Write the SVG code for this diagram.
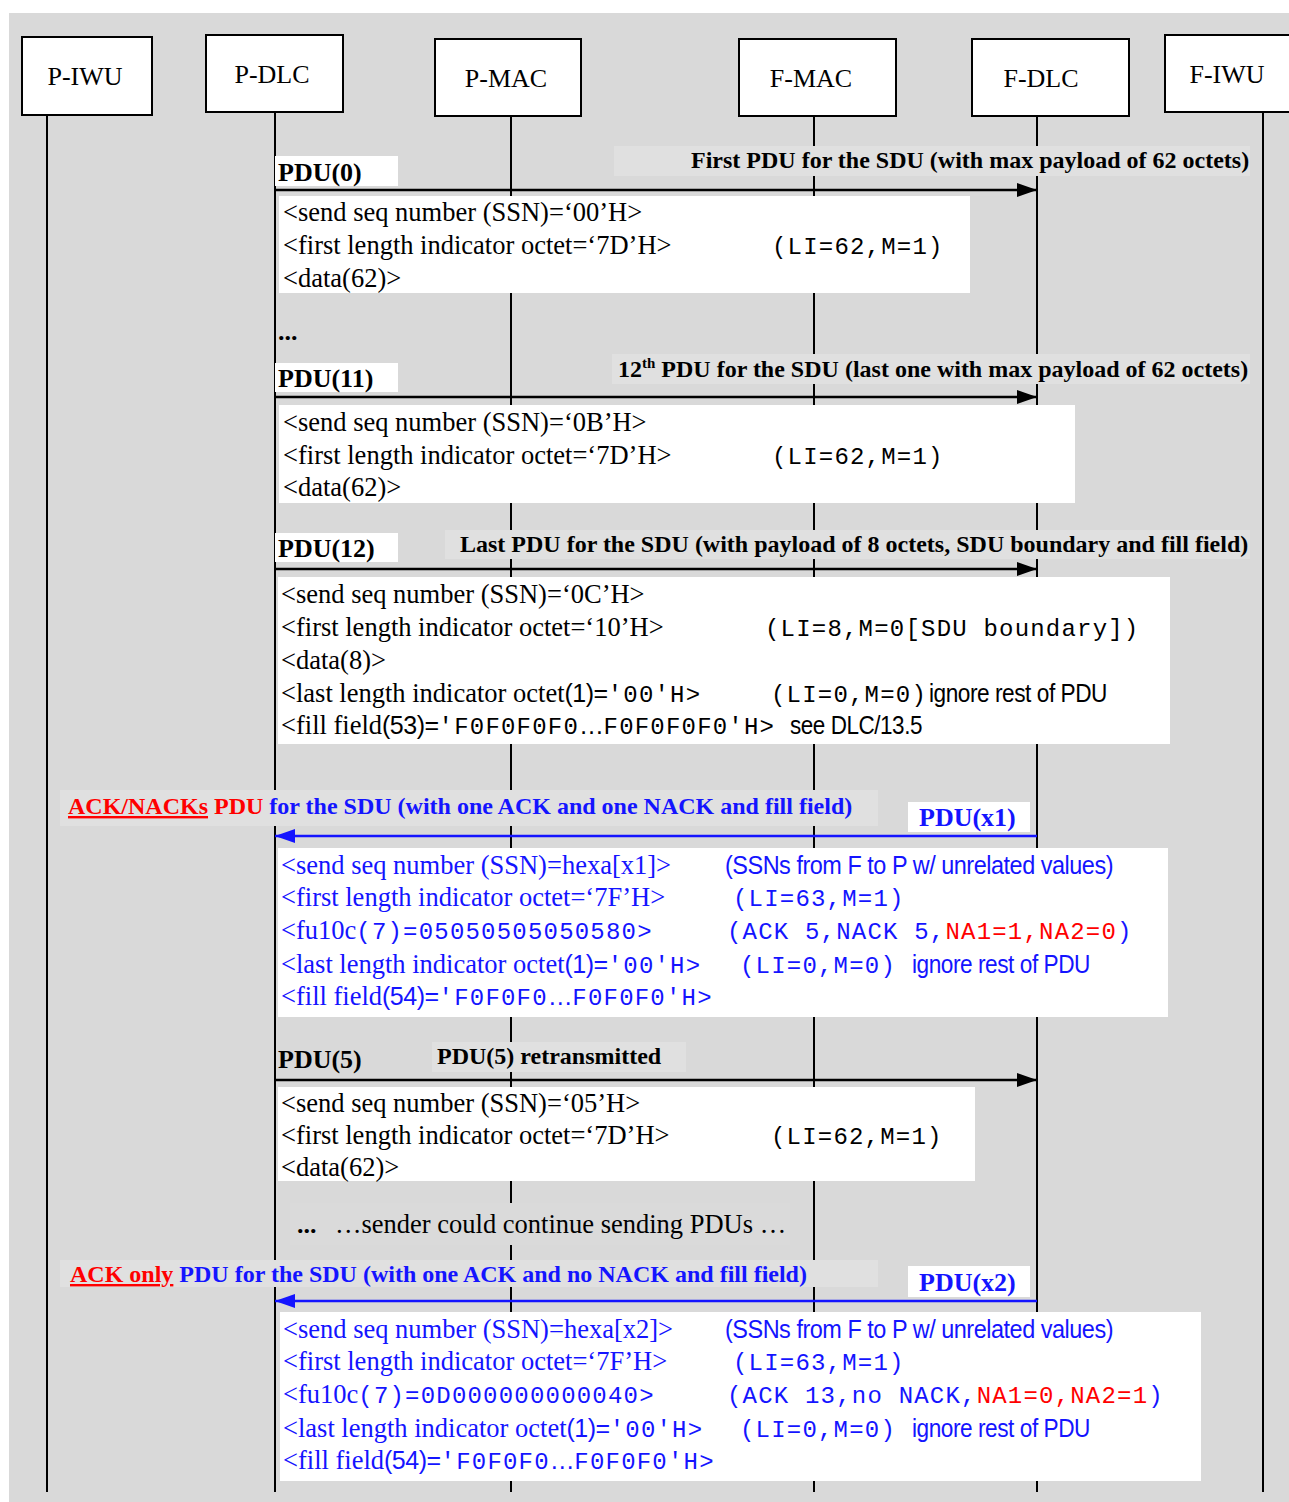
<svg xmlns="http://www.w3.org/2000/svg" width="1289" height="1502" viewBox="0 0 1289 1502">
<style>
.box{fill:#fff;stroke:#000;stroke-width:2}
.life{stroke:#000;stroke-width:2}
.name{font-family:"Liberation Serif","Times New Roman",serif;font-size:26px;text-anchor:middle;fill:#000}
.t{font-family:"Liberation Serif","Times New Roman",serif;font-size:26.5px;fill:#000}
.m{font-family:"Liberation Mono","Courier New",monospace;font-size:24px;letter-spacing:1.2px}
.n{font-family:"Liberation Sans Narrow","Liberation Sans",Arial,sans-serif;font-size:25px;letter-spacing:-0.5px}
.b{font-family:"Liberation Serif","Times New Roman",serif;font-weight:bold;font-size:26px;fill:#000}
.h{font-family:"Liberation Serif","Times New Roman",serif;font-weight:bold;font-size:24px;fill:#000}
.blue{fill:#1414ff}
.red{fill:#ff0000}
.wbg{fill:#fff}
.gbg{fill:#e0e0e0}
.arr{stroke:#000;stroke-width:2.5;fill:none}
.arrb{stroke:#1414ff;stroke-width:2.5;fill:none}
</style>
<defs>
<marker id="ah" viewBox="0 0 20 14" refX="20" refY="7" markerWidth="20" markerHeight="14" markerUnits="userSpaceOnUse" orient="auto"><path d="M0,0 L20,7 L0,14 Z" fill="#000"/></marker>
<marker id="ahb" viewBox="0 0 20 14" refX="20" refY="7" markerWidth="20" markerHeight="14" markerUnits="userSpaceOnUse" orient="auto"><path d="M0,0 L20,7 L0,14 Z" fill="#1414ff"/></marker>
</defs>
<rect x="9" y="13" width="1280" height="1489" fill="#d9d9d9"/>
<!-- lifelines -->
<g id="lifelines">
<line class="life" x1="47" y1="115" x2="47" y2="1492"/>
<line class="life" x1="275" y1="112" x2="275" y2="1492"/>
<line class="life" x1="511" y1="116" x2="511" y2="1492"/>
<line class="life" x1="814" y1="116" x2="814" y2="1492"/>
<line class="life" x1="1037" y1="116" x2="1037" y2="1492"/>
<line class="life" x1="1263" y1="112" x2="1263" y2="1492"/>
</g>
<!-- label backgrounds -->
<g id="label-bgs">
<rect class="gbg" x="614" y="146" width="636" height="30"/>
<rect class="gbg" x="612" y="354" width="638" height="30"/>
<rect class="gbg" x="445" y="530" width="805" height="29"/>
<rect class="gbg" x="60" y="790" width="818" height="36"/>
<rect class="gbg" x="432" y="1042" width="254" height="30"/>
<rect fill="#dadada" x="290" y="1203" width="500" height="42"/>
<rect class="gbg" x="60" y="1260" width="818" height="27"/>
</g>
<!-- nodes -->
<g id="P-IWU"><rect class="box" x="22" y="37" width="130" height="78"/><text class="name" x="85" y="85">P-IWU</text></g>
<g id="P-DLC"><rect class="box" x="206" y="35" width="137" height="77"/><text class="name" x="272" y="83">P-DLC</text></g>
<g id="P-MAC"><rect class="box" x="435" y="39" width="146" height="77"/><text class="name" x="506" y="87">P-MAC</text></g>
<g id="F-MAC"><rect class="box" x="739" y="39" width="157" height="77"/><text class="name" x="811" y="87">F-MAC</text></g>
<g id="F-DLC"><rect class="box" x="972" y="39" width="157" height="77"/><text class="name" x="1041" y="87">F-DLC</text></g>
<g id="F-IWU"><rect class="box" x="1165" y="35" width="130" height="77"/><text class="name" x="1227" y="83">F-IWU</text></g>
<!-- connectors -->
<g id="connectors">
<line class="arr" x1="275" y1="190" x2="1037" y2="190" marker-end="url(#ah)"/>
<line class="arr" x1="275" y1="397" x2="1037" y2="397" marker-end="url(#ah)"/>
<line class="arr" x1="275" y1="569" x2="1037" y2="569" marker-end="url(#ah)"/>
<line class="arrb" x1="1037" y1="836" x2="275" y2="836" marker-end="url(#ahb)"/>
<line class="arr" x1="275" y1="1080" x2="1037" y2="1080" marker-end="url(#ah)"/>
<line class="arrb" x1="1037" y1="1301" x2="275" y2="1301" marker-end="url(#ahb)"/>
</g>
<!-- message 1 -->
<g id="msg-pdu0">
<rect class="wbg" x="275" y="156" width="123" height="30"/>
<text class="b" x="278" y="181">PDU(0)</text>
<text class="h" x="691" y="168">First PDU for the SDU (with max payload of 62 octets)</text>
<rect class="wbg" x="279" y="196" width="691" height="97"/>
<text class="t" x="283" y="221">&lt;send seq number (SSN)=‘00’H&gt;</text>
<text class="t" x="283" y="254">&lt;first length indicator octet=‘7D’H&gt;</text>
<text class="m" x="772" y="254">(LI=62,M=1)</text>
<text class="t" x="283" y="287">&lt;data(62)&gt;</text>
</g>
<text class="b" x="278" y="340">...</text>
<!-- message 2 -->
<g id="msg-pdu11">
<rect class="wbg" x="275" y="363" width="123" height="29"/>
<text class="b" x="278" y="387">PDU(11)</text>
<text class="h" x="618" y="377">12<tspan font-size="15" dy="-9">th</tspan><tspan dy="9"> PDU for the SDU (last one with max payload of 62 octets)</tspan></text>
<rect class="wbg" x="279" y="405" width="796" height="98"/>
<text class="t" x="283" y="431">&lt;send seq number (SSN)=‘0B’H&gt;</text>
<text class="t" x="283" y="464">&lt;first length indicator octet=‘7D’H&gt;</text>
<text class="m" x="772" y="464">(LI=62,M=1)</text>
<text class="t" x="283" y="496">&lt;data(62)&gt;</text>
</g>
<!-- message 3 -->
<g id="msg-pdu12">
<rect class="wbg" x="275" y="533" width="123" height="29"/>
<text class="b" x="278" y="557">PDU(12)</text>
<text class="h" x="460" y="552">Last PDU for the SDU (with payload of 8 octets, SDU boundary and fill field)</text>
<rect class="wbg" x="278" y="577" width="892" height="167"/>
<text class="t" x="281" y="603">&lt;send seq number (SSN)=‘0C’H&gt;</text>
<text class="t" x="281" y="636">&lt;first length indicator octet=‘10’H&gt;</text>
<text class="m" x="765" y="636">(LI=8,M=0[SDU boundary])</text>
<text class="t" x="281" y="669">&lt;data(8)&gt;</text>
<text class="t" x="281" y="702">&lt;last length indicator octet<tspan class="n">(1)=</tspan><tspan class="m">'00'H&gt;</tspan></text>
<text class="m" x="771" y="702">(LI=0,M=0)</text>
<text class="n" x="929" y="702" textLength="178" lengthAdjust="spacingAndGlyphs">ignore rest of PDU</text>
<text class="t" x="281" y="734">&lt;fill field<tspan class="n">(53)=</tspan><tspan class="m">'F0F0F0F0</tspan><tspan class="n">…</tspan><tspan class="m">F0F0F0F0'H&gt;</tspan></text>
<text class="n" x="790" y="734" textLength="132" lengthAdjust="spacingAndGlyphs">see DLC/13.5</text>
</g>
<!-- ack/nack 1 -->
<g id="msg-pdux1">
<text class="h" x="68" y="814"><tspan class="red" text-decoration="underline">ACK/NACKs</tspan><tspan class="red"> PDU</tspan><tspan class="blue"> for the SDU (with one ACK and one NACK and fill field)</tspan></text>
<rect class="wbg" x="908" y="802" width="122" height="30"/>
<text class="b blue" x="919" y="826">PDU(x1)</text>
<rect class="wbg" x="278" y="848" width="890" height="169"/>
<text class="t blue" x="281" y="874">&lt;send seq number (SSN)=hexa[x1]&gt;</text>
<text class="n blue" x="725" y="874" textLength="388" lengthAdjust="spacingAndGlyphs">(SSNs from F to P w/ unrelated values)</text>
<text class="t blue" x="281" y="906">&lt;first length indicator octet=‘7F’H&gt;</text>
<text class="m blue" x="733" y="906">(LI=63,M=1)</text>
<text class="t blue" x="281" y="939">&lt;fu10c<tspan class="m">(7)=05050505050580&gt;</tspan></text>
<text class="m blue" x="727" y="939">(ACK 5,NACK 5,<tspan class="red">NA1=1,NA2=0</tspan>)</text>
<text class="t blue" x="281" y="973">&lt;last length indicator octet<tspan class="n">(1)=</tspan><tspan class="m">'00'H&gt;</tspan></text>
<text class="m blue" x="740" y="973">(LI=0,M=0)</text>
<text class="n blue" x="912" y="973" textLength="178" lengthAdjust="spacingAndGlyphs">ignore rest of PDU</text>
<text class="t blue" x="281" y="1005">&lt;fill field<tspan class="n">(54)=</tspan><tspan class="m">'F0F0F0</tspan><tspan class="n">…</tspan><tspan class="m">F0F0F0'H&gt;</tspan></text>
</g>
<!-- pdu 5 -->
<g id="msg-pdu5">
<text class="b" x="278" y="1068">PDU(5)</text>
<text class="h" x="437" y="1064">PDU(5) retransmitted</text>
<rect class="wbg" x="278" y="1087" width="697" height="94"/>
<text class="t" x="281" y="1112">&lt;send seq number (SSN)=‘05’H&gt;</text>
<text class="t" x="281" y="1144">&lt;first length indicator octet=‘7D’H&gt;</text>
<text class="m" x="771" y="1144">(LI=62,M=1)</text>
<text class="t" x="281" y="1176">&lt;data(62)&gt;</text>
</g>
<text class="b" x="297" y="1233">...</text>
<text class="t" x="335" y="1233">…sender could continue sending PDUs …</text>
<!-- ack only -->
<g id="msg-pdux2">
<text class="h" x="70" y="1282"><tspan class="red" text-decoration="underline">ACK only</tspan><tspan class="blue"> PDU for the SDU (with one ACK and no NACK and fill field)</tspan></text>
<rect class="wbg" x="908" y="1266" width="122" height="31"/>
<text class="b blue" x="919" y="1291">PDU(x2)</text>
<rect class="wbg" x="280" y="1312" width="921" height="169"/>
<text class="t blue" x="283" y="1338">&lt;send seq number (SSN)=hexa[x2]&gt;</text>
<text class="n blue" x="725" y="1338" textLength="388" lengthAdjust="spacingAndGlyphs">(SSNs from F to P w/ unrelated values)</text>
<text class="t blue" x="283" y="1370">&lt;first length indicator octet=‘7F’H&gt;</text>
<text class="m blue" x="733" y="1370">(LI=63,M=1)</text>
<text class="t blue" x="283" y="1403">&lt;fu10c<tspan class="m">(7)=0D000000000040&gt;</tspan></text>
<text class="m blue" x="727" y="1403">(ACK 13,no NACK,<tspan class="red">NA1=0,NA2=1</tspan>)</text>
<text class="t blue" x="283" y="1437">&lt;last length indicator octet<tspan class="n">(1)=</tspan><tspan class="m">'00'H&gt;</tspan></text>
<text class="m blue" x="740" y="1437">(LI=0,M=0)</text>
<text class="n blue" x="912" y="1437" textLength="178" lengthAdjust="spacingAndGlyphs">ignore rest of PDU</text>
<text class="t blue" x="283" y="1469">&lt;fill field<tspan class="n">(54)=</tspan><tspan class="m">'F0F0F0</tspan><tspan class="n">…</tspan><tspan class="m">F0F0F0'H&gt;</tspan></text>
</g>
</svg>
